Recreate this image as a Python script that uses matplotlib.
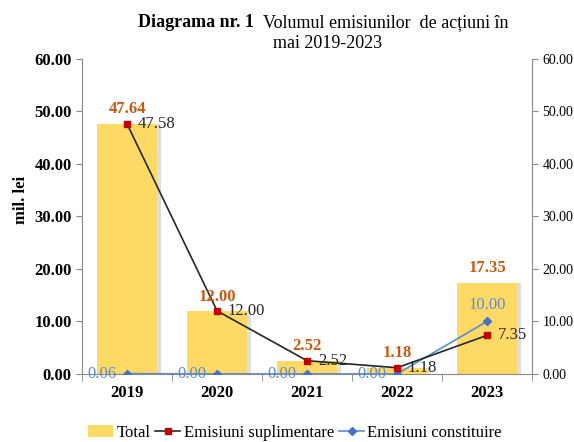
import matplotlib.pyplot as plt
import numpy as np

years = ['2019', '2020', '2021', '2022', '2023']
total = [47.64, 12.00, 2.52, 1.18, 17.35]
suplimentare = [47.58, 12.00, 2.52, 1.18, 7.35]
constituire = [0.06, 0.00, 0.00, 0.00, 10.00]
yticks = [0, 10, 20, 30, 40, 50, 60]

plt.rcParams['font.family'] = ['Liberation Serif', 'DejaVu Serif']

fig = plt.figure(figsize=(5.74, 4.42), dpi=100)
ax = fig.add_axes([0.143, 0.154, 0.784, 0.713])
x = np.arange(len(years))

# bar shadow, then bars
ax.bar(x + 0.04, total, width=0.67, color='#c8c8c8', alpha=0.6, zorder=1)
bars = ax.bar(x, total, width=0.67, color='#FFD966', zorder=2, label='Total')
l1, = ax.plot(x, suplimentare, color='#262626', lw=1.2, marker='s', ms=5,
              mfc='#C00000', mec='#C00000', zorder=4, label='Emisiuni suplimentare')
l2, = ax.plot(x, constituire, color='#5B8BD5', lw=1.2, marker='D', ms=4,
              mfc='#4472C4', mec='#4472C4', zorder=3, label='Emisiuni constituire')

for i in range(len(years)):
    ax.text(x[i], total[i] + 1.2, f'{total[i]:.2f}', ha='center', va='bottom',
            color='#C55A11', fontsize=12, fontweight='bold', zorder=5)
    ax.text(x[i] + 0.12, suplimentare[i], f'{suplimentare[i]:.2f}', ha='left',
            va='center', color='#262626', fontsize=12, zorder=5)
    if i < 4:
        ax.text(x[i] - 0.12, constituire[i], f'{constituire[i]:.2f}', ha='right',
                va='center', color='#5B8BD5', fontsize=12, zorder=5)
    else:
        ax.text(x[i], constituire[i] + 1.6, f'{constituire[i]:.2f}', ha='center',
                va='bottom', color='#5B8BD5', fontsize=12, zorder=5)

ax.set_xlim(-0.5, 4.5)
ax.set_ylim(0, 60)
ax.set_yticks(yticks)
ax.set_yticklabels([f'{v:.2f}' for v in yticks], fontsize=12, fontweight='bold')
ax.set_xticks(x)
ax.set_xticklabels(years, fontsize=12, fontweight='bold')
ax.tick_params(axis='x', length=0, pad=8)
ax.set_xticks(np.arange(-0.5, 5, 1), minor=True)
ax.tick_params(axis='x', which='minor', length=5, color='#888888')
ax.tick_params(axis='y', length=4, color='#888888')
for s in ['top', 'right']:
    ax.spines[s].set_visible(False)
for s in ['left', 'bottom']:
    ax.spines[s].set_color('#888888')

ax2 = ax.twinx()
ax2.set_ylim(0, 60)
ax2.set_yticks(yticks)
ax2.set_yticklabels([f'{v:.2f}' for v in yticks], fontsize=10)
ax2.tick_params(axis='y', length=4, color='#888888')
for s in ['top', 'left', 'bottom']:
    ax2.spines[s].set_visible(False)
ax2.spines['right'].set_color('#888888')

fig.text(0.037, 0.548, 'mil. lei', rotation=90, ha='center', va='center',
         fontsize=12, fontweight='bold')

# title: bold part + normal part
fig.text(0.443, 0.948, 'Diagrama nr. 1', ha='right', va='center',
         fontsize=13, fontweight='bold')
fig.text(0.458, 0.948, 'Volumul emisiunilor  de acțiuni în', ha='left',
         va='center', fontsize=13)
fig.text(0.571, 0.902, 'mai 2019-2023', ha='center', va='center', fontsize=13)

fig.legend([bars, l1, l2], ['Total', 'Emisiuni suplimentare', 'Emisiuni constituire'],
           loc='center', bbox_to_anchor=(0.514, 0.02), ncol=3,
           frameon=False, fontsize=12, handlelength=1.5, handletextpad=0.2,
           columnspacing=0.3)

fig.savefig('out.png', dpi=100)
